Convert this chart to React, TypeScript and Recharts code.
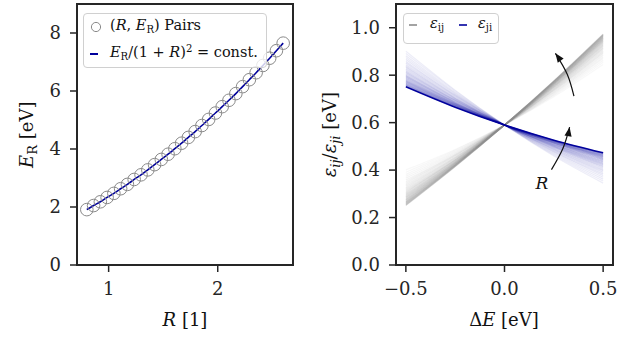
import React from "react";
import {
  ComposedChart,
  Line,
  Scatter,
  XAxis,
  YAxis,
  ReferenceArea,
  ReferenceDot,
} from "recharts";

// left panel: (R, E_R) pairs
const R_VALUES = [
  0.8, 0.862, 0.924, 0.986, 1.048, 1.11, 1.172, 1.234, 1.297, 1.359, 1.421,
  1.483, 1.545, 1.607, 1.669, 1.731, 1.793, 1.855, 1.917, 1.979, 2.041, 2.103,
  2.166, 2.228, 2.29, 2.352, 2.414, 2.476, 2.538, 2.6,
];
const E_R_VALUES = [
  1.91, 2.05, 2.18, 2.33, 2.47, 2.63, 2.78, 2.95, 3.11, 3.28, 3.46, 3.64,
  3.82, 4.01, 4.2, 4.4, 4.6, 4.81, 5.02, 5.24, 5.46, 5.68, 5.91, 6.15, 6.39,
  6.63, 6.88, 7.13, 7.39, 7.65,
];
const R_TICKS = [1, 2];
const E_TICKS = [0, 2, 4, 6, 8];

// right panel: one row per R value, sampled at DE_VALUES
const DE_VALUES = [-0.5, -0.25, 0, 0.25, 0.5];
const EPS_IJ = [
  [0.401, 0.487, 0.59, 0.709, 0.845],
  [0.391, 0.483, 0.59, 0.714, 0.854],
  [0.382, 0.478, 0.59, 0.718, 0.862],
  [0.374, 0.474, 0.59, 0.722, 0.87],
  [0.366, 0.47, 0.59, 0.726, 0.877],
  [0.358, 0.466, 0.59, 0.729, 0.884],
  [0.351, 0.463, 0.59, 0.733, 0.891],
  [0.344, 0.46, 0.59, 0.736, 0.897],
  [0.338, 0.456, 0.59, 0.739, 0.902],
  [0.332, 0.453, 0.59, 0.741, 0.908],
  [0.326, 0.451, 0.59, 0.744, 0.913],
  [0.32, 0.448, 0.59, 0.747, 0.917],
  [0.315, 0.445, 0.59, 0.749, 0.922],
  [0.31, 0.443, 0.59, 0.751, 0.926],
  [0.305, 0.441, 0.59, 0.753, 0.93],
  [0.3, 0.438, 0.59, 0.755, 0.934],
  [0.296, 0.436, 0.59, 0.757, 0.938],
  [0.292, 0.434, 0.59, 0.759, 0.942],
  [0.288, 0.432, 0.59, 0.761, 0.945],
  [0.284, 0.43, 0.59, 0.763, 0.948],
  [0.28, 0.429, 0.59, 0.764, 0.951],
  [0.276, 0.427, 0.59, 0.766, 0.954],
  [0.273, 0.425, 0.59, 0.767, 0.957],
  [0.269, 0.424, 0.59, 0.769, 0.959],
  [0.266, 0.422, 0.59, 0.77, 0.962],
  [0.263, 0.421, 0.59, 0.771, 0.964],
  [0.26, 0.419, 0.59, 0.773, 0.967],
  [0.257, 0.418, 0.59, 0.774, 0.969],
  [0.254, 0.416, 0.59, 0.775, 0.971],
  [0.251, 0.415, 0.59, 0.776, 0.973],
];
const EPS_JI = [
  [0.901, 0.737, 0.59, 0.459, 0.345],
  [0.891, 0.733, 0.59, 0.464, 0.354],
  [0.882, 0.728, 0.59, 0.468, 0.362],
  [0.874, 0.724, 0.59, 0.472, 0.37],
  [0.866, 0.72, 0.59, 0.476, 0.377],
  [0.858, 0.716, 0.59, 0.479, 0.384],
  [0.851, 0.713, 0.59, 0.483, 0.391],
  [0.844, 0.71, 0.59, 0.486, 0.397],
  [0.838, 0.706, 0.59, 0.489, 0.402],
  [0.832, 0.703, 0.59, 0.491, 0.408],
  [0.826, 0.701, 0.59, 0.494, 0.413],
  [0.82, 0.698, 0.59, 0.497, 0.417],
  [0.815, 0.695, 0.59, 0.499, 0.422],
  [0.81, 0.693, 0.59, 0.501, 0.426],
  [0.805, 0.691, 0.59, 0.503, 0.43],
  [0.8, 0.688, 0.59, 0.505, 0.434],
  [0.796, 0.686, 0.59, 0.507, 0.438],
  [0.792, 0.684, 0.59, 0.509, 0.442],
  [0.788, 0.682, 0.59, 0.511, 0.445],
  [0.784, 0.68, 0.59, 0.513, 0.448],
  [0.78, 0.679, 0.59, 0.514, 0.451],
  [0.776, 0.677, 0.59, 0.516, 0.454],
  [0.773, 0.675, 0.59, 0.517, 0.457],
  [0.769, 0.674, 0.59, 0.519, 0.459],
  [0.766, 0.672, 0.59, 0.52, 0.462],
  [0.763, 0.671, 0.59, 0.521, 0.464],
  [0.76, 0.669, 0.59, 0.523, 0.467],
  [0.757, 0.668, 0.59, 0.524, 0.469],
  [0.754, 0.666, 0.59, 0.525, 0.471],
  [0.751, 0.665, 0.59, 0.526, 0.473],
];
const DE_TICKS = [-0.5, 0, 0.5];
const EPS_TICKS = [0, 0.2, 0.4, 0.6, 0.8, 1.0];

// "R" arrows (data coordinates of the right panel)
const ARROW_GREY = [
  { de: 0.352, v: 0.712 },
  { de: 0.318, v: 0.804 },
  { de: 0.258, v: 0.892 },
];
const ARROW_BLUE = [
  { de: 0.238, v: 0.402 },
  { de: 0.296, v: 0.491 },
  { de: 0.33, v: 0.581 },
];

const FONT = "DejaVu Serif";
const INK = "#262626";
const BLUE = "#00009c";
const GREY = "#8c8c8c";

const tickStyle = { fill: INK, fontSize: 18, fontFamily: FONT };
const fmt1 = (v: number) => v.toFixed(1).replace("-", "\u2212");

const hollowCircle = (p: any) => (
  <circle cx={p.cx} cy={p.cy} r={6.3} fill="none" stroke="#8a8a8a" strokeWidth={1} />
);

const arrowHead = (angle: number) => (p: any) => (
  <polygon
    points="0,0 -9,-3.6 -9,3.6"
    fill="#111"
    transform={`translate(${p.cx},${p.cy}) rotate(${angle})`}
  />
);

const pairs = R_VALUES.map((r, i) => ({ r, e: E_R_VALUES[i] }));
const rows = (table: number[][]) =>
  table.map((row) => DE_VALUES.map((de, i) => ({ de, v: row[i] })));

function LeftPanel() {
  return (
    <ComposedChart
      width={317}
      height={340}
      data={pairs}
      margin={{ top: 4, right: 24, bottom: 35, left: 22 }}
    >
      <XAxis
        type="number"
        dataKey="r"
        domain={[0.71, 2.69]}
        ticks={R_TICKS}
        allowDataOverflow
        axisLine={false}
        tickLine={{ stroke: INK, strokeWidth: 1.5 }}
        tickSize={7}
        tickMargin={10}
        tick={tickStyle}
        height={40}
      />
      <YAxis
        type="number"
        domain={[0, 9]}
        ticks={E_TICKS}
        allowDataOverflow
        axisLine={false}
        tickLine={{ stroke: INK, strokeWidth: 1.5 }}
        tickSize={7}
        tickMargin={9}
        tick={tickStyle}
        width={55}
      />
      <Scatter dataKey="e" shape={hollowCircle} isAnimationActive={false} />
      <Line
        dataKey="e"
        type="monotone"
        stroke={BLUE}
        strokeWidth={1.6}
        dot={false}
        isAnimationActive={false}
      />
      <ReferenceArea
        x1={0.71}
        x2={2.69}
        y1={0}
        y2={9}
        fill="none"
        stroke={INK}
        strokeWidth={2}
      />
    </ComposedChart>
  );
}

function RightPanel() {
  const n = EPS_IJ.length - 1;
  return (
    <ComposedChart
      width={316}
      height={340}
      margin={{ top: 4, right: 20, bottom: 35, left: 24 }}
    >
      <XAxis
        type="number"
        dataKey="de"
        domain={[-0.55, 0.55]}
        ticks={DE_TICKS}
        tickFormatter={fmt1}
        allowDataOverflow
        axisLine={false}
        tickLine={{ stroke: INK, strokeWidth: 1.5 }}
        tickSize={7}
        tickMargin={10}
        tick={tickStyle}
        height={40}
      />
      <YAxis
        type="number"
        domain={[0, 1.1]}
        ticks={EPS_TICKS}
        tickFormatter={fmt1}
        allowDataOverflow
        axisLine={false}
        tickLine={{ stroke: INK, strokeWidth: 1.5 }}
        tickSize={7}
        tickMargin={9}
        tick={tickStyle}
        width={55}
      />
      {rows(EPS_IJ).map((d, k) => (
        <Line
          key={`ij${k}`}
          data={d}
          dataKey="v"
          type="monotone"
          stroke={GREY}
          strokeOpacity={0.06 + 0.28 * (k / n)}
          strokeWidth={1.2}
          dot={false}
          isAnimationActive={false}
        />
      ))}
      {rows(EPS_JI).map((d, k) => (
        <Line
          key={`ji${k}`}
          data={d}
          dataKey="v"
          type="monotone"
          stroke={BLUE}
          strokeOpacity={k === n ? 1 : 0.07 + 0.17 * (k / n)}
          strokeWidth={k === n ? 1.6 : 1.2}
          dot={false}
          isAnimationActive={false}
        />
      ))}
      <Line
        data={ARROW_GREY}
        dataKey="v"
        type="natural"
        stroke="#111"
        strokeWidth={1.2}
        dot={false}
        isAnimationActive={false}
      />
      <Line
        data={ARROW_BLUE}
        dataKey="v"
        type="natural"
        stroke="#111"
        strokeWidth={1.2}
        dot={false}
        isAnimationActive={false}
      />
      <ReferenceDot x={0.258} y={0.892} r={0} shape={arrowHead(-126)} />
      <ReferenceDot x={0.33} y={0.581} r={0} shape={arrowHead(-80)} />
      <ReferenceDot
        x={0.19}
        y={0.347}
        r={0}
        shape={(p: any) => (
          <text
            x={p.cx}
            y={p.cy + 6}
            textAnchor="middle"
            fontFamily={FONT}
            fontStyle="italic"
            fontSize={17}
            fill="#111"
          >
            R
          </text>
        )}
      />
      <ReferenceArea
        x1={-0.55}
        x2={0.55}
        y1={0}
        y2={1.1}
        fill="none"
        stroke={INK}
        strokeWidth={2}
      />
    </ComposedChart>
  );
}

const legendBox: React.CSSProperties = {
  position: "absolute",
  border: "1px solid #d0d0d0",
  borderRadius: 4,
  background: "rgba(255,255,255,0.8)",
  fontFamily: FONT,
  fontSize: 14.5,
  color: "#111",
  boxSizing: "border-box",
};
const sub: React.CSSProperties = { fontSize: "0.7em", verticalAlign: "-0.3em" };
const sup: React.CSSProperties = { fontSize: "0.7em", verticalAlign: "0.5em" };

function Legends() {
  return (
    <>
      <div style={{ ...legendBox, left: 83, top: 13, width: 184, height: 55 }}>
        <svg width={30} height={55} style={{ position: "absolute", left: 0, top: 0 }}>
          <circle cx={12} cy={13} r={4.6} fill="none" stroke="#8a8a8a" strokeWidth={1} />
          <line x1={6} x2={14} y1={40} y2={40} stroke={BLUE} strokeWidth={2} />
        </svg>
        <div style={{ position: "absolute", left: 26, top: 3, whiteSpace: "nowrap" }}>
          (<i>R</i>, <i>E</i>
          <span style={sub}>R</span>) Pairs
        </div>
        <div style={{ position: "absolute", left: 26, top: 29, whiteSpace: "nowrap" }}>
          <i>E</i>
          <span style={sub}>R</span>/(1 + <i>R</i>)<span style={sup}>2</span> = const.
        </div>
      </div>
      <div style={{ ...legendBox, left: 403, top: 13, width: 96, height: 31 }}>
        <svg width={96} height={31} style={{ position: "absolute", left: 0, top: 0 }}>
          <line x1={5} x2={13} y1={11} y2={11} stroke={GREY} strokeWidth={1.6} />
          <line x1={55} x2={63} y1={11} y2={11} stroke={BLUE} strokeWidth={1.6} />
        </svg>
        <div style={{ position: "absolute", left: 26, top: 1, whiteSpace: "nowrap" }}>
          <i>ε</i>
          <span style={sub}>ij</span>
        </div>
        <div style={{ position: "absolute", left: 74, top: 1, whiteSpace: "nowrap" }}>
          <i>ε</i>
          <span style={sub}>ji</span>
        </div>
      </div>
    </>
  );
}

function AxisTitles() {
  const t = { fontFamily: FONT, fontSize: 18, fill: "#111" };
  return (
    <svg
      width={633}
      height={340}
      style={{ position: "absolute", left: 0, top: 0, pointerEvents: "none" }}
    >
      <text x={185} y={326} textAnchor="middle" {...t}>
        <tspan fontStyle="italic">R</tspan> [1]
      </text>
      <text x={504} y={326} textAnchor="middle" {...t}>
        Δ<tspan fontStyle="italic">E</tspan> [eV]
      </text>
      <text transform="rotate(-90)" x={-134.7} y={33} textAnchor="middle" {...t}>
        <tspan fontStyle="italic">E</tspan>
        <tspan fontSize={13} dy={4}>R</tspan>
        <tspan dy={-4}> [eV]</tspan>
      </text>
      <text transform="rotate(-90)" x={-134.7} y={336} textAnchor="middle" {...t}>
        <tspan fontStyle="italic">ε</tspan>
        <tspan fontSize={13} fontStyle="italic" dy={4}>ij</tspan>
        <tspan dy={-4}>/</tspan>
        <tspan fontStyle="italic">ε</tspan>
        <tspan fontSize={13} fontStyle="italic" dy={4}>ji</tspan>
        <tspan dy={-4}> [eV]</tspan>
      </text>
    </svg>
  );
}

export default function App() {
  return (
    <div
      style={{
        position: "absolute",
        left: 0,
        top: 0,
        width: 633,
        height: 340,
        background: "#fff",
      }}
    >
      <div style={{ position: "absolute", left: 0, top: 0 }}>
        <LeftPanel />
      </div>
      <div style={{ position: "absolute", left: 317, top: 0 }}>
        <RightPanel />
      </div>
      <Legends />
      <AxisTitles />
    </div>
  );
}
